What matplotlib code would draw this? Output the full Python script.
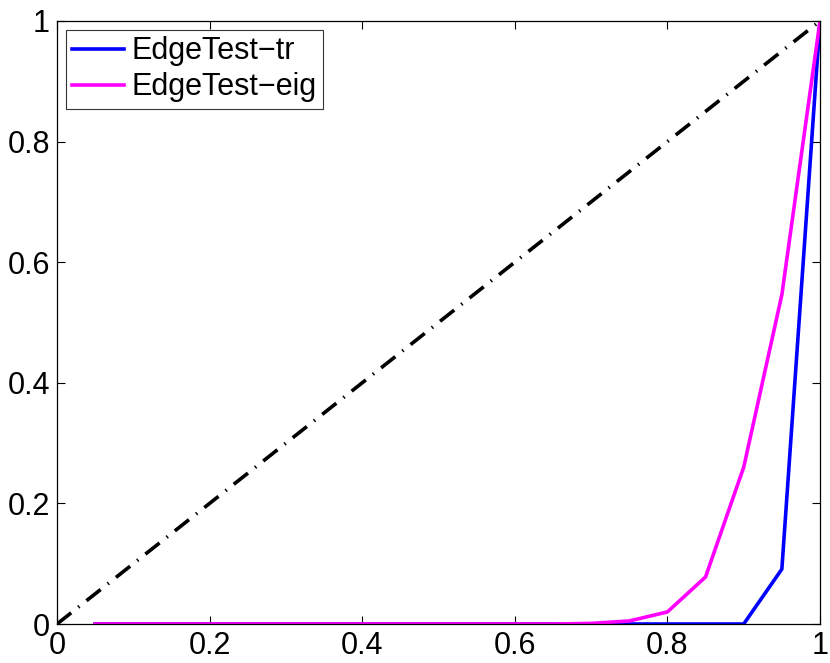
import matplotlib
matplotlib.use('Agg')
import matplotlib.pyplot as plt

# valores
x_vals = [0.05, 0.10, 0.15, 0.20, 0.25, 0.30, 0.35, 0.40, 0.45, 0.50,
          0.55, 0.60, 0.65, 0.70, 0.75, 0.80, 0.85, 0.90, 0.95, 1.00]
tr_vals = [0, 0, 0, 0, 0, 0, 0, 0, 0, 0,
           0, 0, 0, 0, 0, 0, 0, 0, 0.091, 1.0]
eig_vals = [0, 0, 0, 0, 0, 0, 0, 0, 0, 0,
            0, 0, 0, 0.001, 0.005, 0.020, 0.078, 0.26, 0.546, 1.0]
diag = [0, 1]

plt.rcParams['font.family'] = ['Liberation Sans', 'DejaVu Sans']

fig = plt.figure(figsize=(8.3, 6.63), dpi=100)
ax = fig.add_axes([57/830, 1 - 624/663, 763/830, 603/663])

ax.plot(diag, diag, color='black', linestyle=(0, (5, 2.5, 0.4, 2.5)), linewidth=2.6)
ax.plot(x_vals, tr_vals, color='#0000ff', linewidth=2.6, label='EdgeTest\u2212tr')
ax.plot(x_vals, eig_vals, color='#ff00ff', linewidth=2.6, label='EdgeTest\u2212eig')

ax.set_xlim(0, 1)
ax.set_ylim(0, 1)
ax.set_xticks([0, 0.2, 0.4, 0.6, 0.8, 1])
ax.set_yticks([0, 0.2, 0.4, 0.6, 0.8, 1])
ax.set_xticklabels(['0', '0.2', '0.4', '0.6', '0.8', '1'])
ax.set_yticklabels(['0', '0.2', '0.4', '0.6', '0.8', '1'])
ax.tick_params(direction='in', top=True, right=True, labelsize=22,
               length=6, width=0.8, pad=5)
for s in ax.spines.values():
    s.set_linewidth(0.9)

leg = ax.legend(loc='upper left', fontsize=22, frameon=True, fancybox=False,
                edgecolor='black', handlelength=1.7, borderaxespad=0.3,
                borderpad=0.2, labelspacing=0.2, handletextpad=0.25)
leg.get_frame().set_linewidth(0.8)

fig.savefig('out.png', dpi=100)
